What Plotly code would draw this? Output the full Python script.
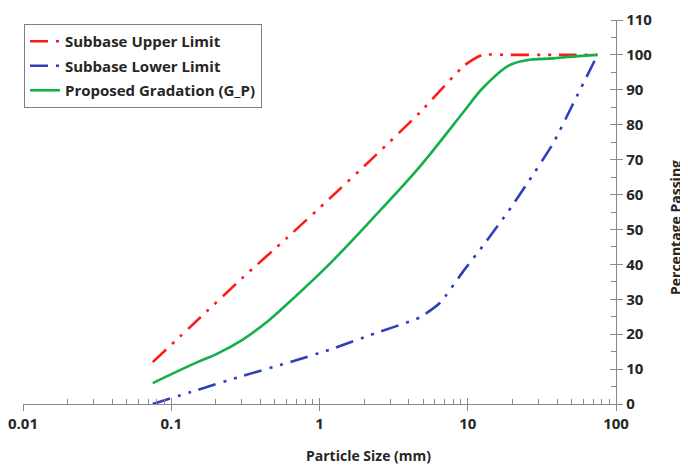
import plotly.graph_objects as go

# sieve sizes (mm)
upper_x = [0.075, 0.15, 0.3, 0.6, 1.18, 2.36, 4.75, 9.5, 12.5, 19, 37.5, 75]
upper_y = [12, 24, 36, 47.5, 59, 71, 83.5, 97, 100, 100, 100, 100]

lower_x = [0.075, 0.15, 0.3, 0.6, 1.18, 2.36, 4.75, 6.5, 9.5, 12.5, 19, 25, 37.5, 50, 75]
lower_y = [0, 4, 8, 11.7, 15.6, 20.2, 24.8, 29, 38.5, 45, 55.5, 63, 74.5, 85, 100]

prop_x = [0.075, 0.15, 0.2, 0.3, 0.45, 0.6, 1.18, 2.36, 4.75, 9.5, 12.5, 19, 25, 37.5, 50, 75]
prop_y = [6, 12, 14.2, 18.3, 23.8, 28.5, 40.3, 53.8, 68, 84, 90.3, 97, 98.5, 99, 99.5, 100]

names = ["Subbase Upper Limit", "Subbase Lower Limit", "Proposed Gradation (G_P)"]
x_ticks = [0.01, 0.1, 1, 10, 100]
x_tick_text = ["0.01", "0.1", "1", "10", "100"]
y_ticks = list(range(0, 111, 10))

minor_x = [m * d for d in [0.01, 0.1, 1, 10] for m in range(2, 10)]

FONT = "Open Sans"
TXT = "#262626"
AX = "#8a8a8a"
dd = "18px,8px,3px,8px,3px,8px"

OFF = 8  # page body margin
W, H = 688 - OFF, 470 - OFF
# desired plot area in page pixels: x 23..616, y 20..404
l, t = 23 - OFF, 20 - OFF
r, b = W - (616 - OFF), H - (404 - OFF)
pw, ph = W - l - r, H - t - b


def px(xp):
    return (xp - OFF - l) / pw


def py(yp):
    return (H - b - (yp - OFF)) / ph


fig = go.Figure()
fig.add_trace(go.Scatter(x=upper_x, y=upper_y, mode="lines", name=names[0], legendgroup="a",
                         line=dict(color="#FF1A1A", width=2.6, dash=dd, shape="spline", smoothing=0.5)))
fig.add_trace(go.Scatter(x=lower_x, y=lower_y, mode="lines", name=names[1], legendgroup="b",
                         line=dict(color="#2F3FBA", width=2.6, dash=dd, shape="spline", smoothing=0.5)))
fig.add_trace(go.Scatter(x=prop_x, y=prop_y, mode="lines", name=names[2], legendgroup="c",
                         line=dict(color="#12B04A", width=2.6, shape="spline", smoothing=1)))
fig.add_trace(go.Scatter(x=[0.01], y=[0], xaxis="x2", yaxis="y2", mode="markers",
                         marker=dict(opacity=0), showlegend=False, hoverinfo="skip"))

fig.update_layout(
    width=W, height=H,
    margin=dict(l=l, r=r, t=t, b=b, autoexpand=False),
    paper_bgcolor="white", plot_bgcolor="white",
    font=dict(family=FONT, color=TXT, size=14),
    showlegend=True,
    legend=dict(x=px(24), y=py(24), xanchor="left", yanchor="top",
                bordercolor="#7f7f7f", borderwidth=1, bgcolor="white",
                font=dict(family=FONT, size=15, color=TXT, weight="bold"),
                tracegroupgap=2, itemwidth=30),
    xaxis=dict(type="log", range=[-2, 2], tickvals=x_ticks, ticktext=x_tick_text,
               automargin=False, ticklabeloverflow="allow",
               showgrid=False, zeroline=False, showline=True, linecolor=AX, linewidth=1.3,
               ticks="outside", ticklen=6, tickcolor=AX, tickwidth=1.3,
               tickfont=dict(family=FONT, size=15, color=TXT, weight="bold"),
               minor=dict(tickvals=minor_x, ticks="inside", ticklen=5, tickcolor=AX, tickwidth=1, showgrid=False)),
    yaxis=dict(range=[0, 110], side="right", tickvals=y_ticks, automargin=False,
               ticklabeloverflow="allow",
               showgrid=False, zeroline=False, showline=True, linecolor=AX, linewidth=1.3,
               ticks="outside", ticklen=6, tickcolor=AX, tickwidth=1.3,
               tickfont=dict(family=FONT, size=15, color=TXT, weight="bold"),
               minor=dict(dtick=5, ticks="inside", ticklen=5, tickcolor=AX, tickwidth=1, showgrid=False)),
    xaxis2=dict(type="log", range=[-2, 2], overlaying="x", anchor="y", tickvals=x_ticks,
                automargin=False,
                showticklabels=False, showgrid=False, zeroline=False, showline=False,
                ticks="inside", ticklen=6, tickcolor=AX, tickwidth=1.3),
    yaxis2=dict(range=[0, 110], overlaying="y", side="right", anchor="x", tickvals=y_ticks,
                automargin=False,
                showticklabels=False, showgrid=False, zeroline=False, showline=False,
                ticks="inside", ticklen=6, tickcolor=AX, tickwidth=1.3),
    annotations=[
        dict(text="Particle Size (mm)", xref="paper", yref="paper",
             x=px(368), y=py(455), xanchor="center", yanchor="middle",
             showarrow=False, font=dict(family=FONT, size=14, color=TXT, weight="bold")),
        dict(text="Percentage Passing", textangle=-90, xref="paper", yref="paper",
             x=px(675), y=py(228), xanchor="center", yanchor="middle",
             showarrow=False, font=dict(family=FONT, size=14, color=TXT, weight="bold")),
    ],
)
fig.write_html("out.html")
